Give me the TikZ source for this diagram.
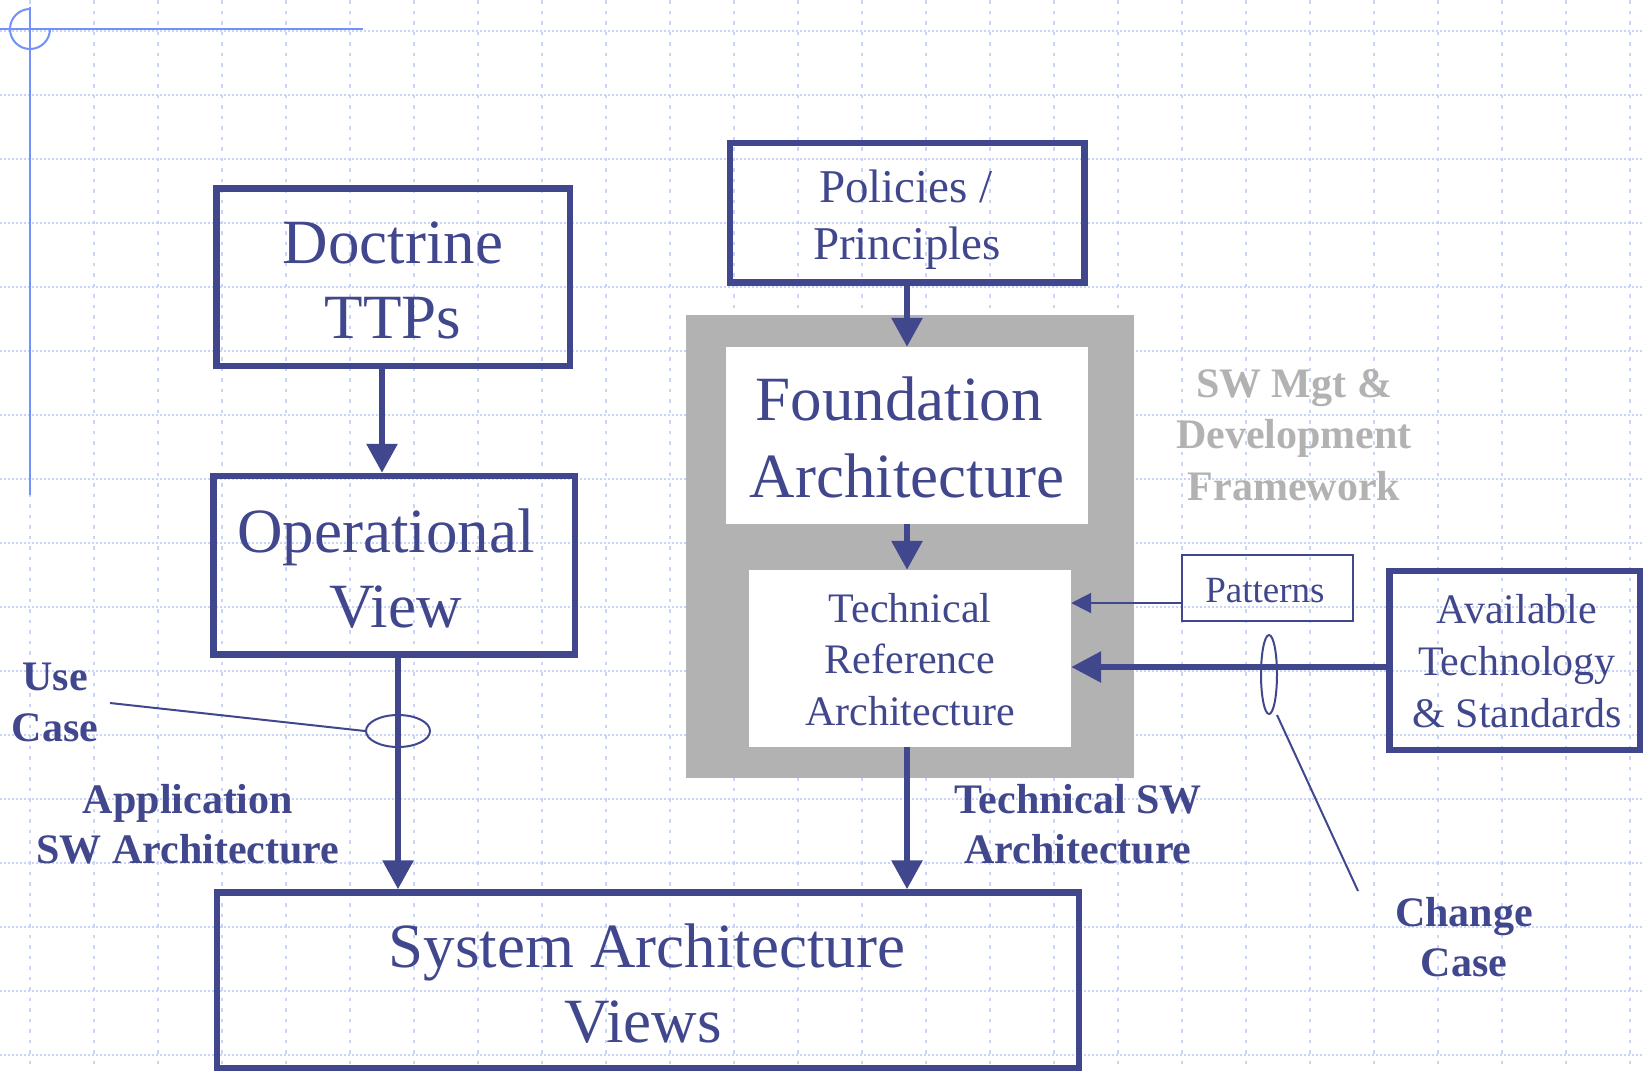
\documentclass[tikz,border=0pt]{standalone}
\usepackage{fontspec}
\setmainfont{Liberation Serif}
\usetikzlibrary{arrows.meta,shapes.geometric}
\definecolor{navy}{RGB}{65,71,141}
\definecolor{gridc}{RGB}{200,212,250}
\definecolor{crossc}{RGB}{115,145,250}
\definecolor{greyfill}{RGB}{178,178,178}
\begin{document}
\begin{tikzpicture}[x=1pt,y=-1pt,
  framebox/.style={draw=navy,line width=6.5pt,inner sep=0pt,rectangle},
  thinbox/.style={draw=navy,line width=2pt,inner sep=0pt,rectangle},
  whitebox/.style={fill=white,draw=none,inner sep=0pt,rectangle},
  greyframe/.style={fill=greyfill,draw=none,inner sep=0pt,rectangle},
  txt/.style={anchor=base,inner sep=0pt,text=navy},
  fbig/.style={font=\fontsize{63}{75}\selectfont},
  fmed/.style={font=\fontsize{42}{50}\selectfont},
  fpol/.style={font=\fontsize{47}{57}\selectfont},
  fpat/.style={font=\fontsize{37}{44}\selectfont},
  fbold/.style={font=\fontsize{42}{50}\selectfont\bfseries},
  arr/.style={draw=navy,line width=6pt,-{Triangle[length=29pt,width=30pt]}},
  arrthick/.style={draw=navy,line width=6pt,-{Triangle[length=30pt,width=30pt]}},
  arrthin/.style={draw=navy,line width=2pt,-{Triangle[length=20pt,width=20pt]}},
  leader/.style={draw=navy,line width=2pt},
  ring/.style={ellipse,draw=navy,line width=2pt,inner sep=0pt},
  gridh/.style={draw=gridc,line width=2pt,dash pattern=on 2pt off 2pt},
  gridv/.style={draw=gridc,line width=2pt,dash pattern=on 3.5pt off 7pt},
  crossline/.style={draw=crossc,line width=2pt}]
\useasboundingbox (0,0) rectangle (1644,1071);
\fill[white] (0,0) rectangle (1644,1071);
% grid
\foreach \k in {0,...,16} \draw[gridh] (0,{31+64*\k}) -- (1644,{31+64*\k});
\foreach \k in {0,...,25} \draw[gridv] ({30+64*\k},0) -- ({30+64*\k},1071);
% crosshair
\draw[crossline] (0,29) -- (363,29);
\draw[crossline] (30,7) -- (30,495);
\draw[crossline] (30,9) arc[start angle=270,end angle=0,radius=20];
% boxes
\node[framebox,minimum width=353.5pt,minimum height=177.5pt] (doctrine) at (393.25,277.25) {};
\node[framebox,minimum width=361.5pt,minimum height=178.5pt] (operational) at (394.25,565.25) {};
\node[framebox,minimum width=862pt,minimum height=175.5pt] (system) at (648,980.25) {};
\node[framebox,minimum width=354.5pt,minimum height=139.5pt] (policies) at (907.25,212.75) {};
\node[greyframe,minimum width=448pt,minimum height=463pt] (sw) at (910,546.5) {};
\node[whitebox,minimum width=362pt,minimum height=177pt] (foundation) at (907,435.5) {};
\node[whitebox,minimum width=322pt,minimum height=177pt] (tra) at (910,658.5) {};
\node[thinbox,minimum width=171pt,minimum height=66pt] (patterns) at (1267.5,588) {};
\node[framebox,minimum width=250.5pt,minimum height=179pt] (avail) at (1514.75,660.5) {};
% texts in boxes
\node[txt,fbig] (t1) at (393,263) {Doctrine};
\node[txt,fbig] (t2) at (393,338) {TTPs};
\node[txt,fbig] (t3) at (386,552) {Operational};
\node[txt,fbig] (t4) at (395.5,627) {View};
\node[txt,fpol] (t5) at (906,202) {Policies /};
\node[txt,fpol] (t6) at (907,259) {Principles};
\node[txt,fbig] (t7) at (899,420) {Foundation};
\node[txt,fbig] (t8) at (907,497) {Architecture};
\node[txt,fmed] (t9) at (910,622) {Technical};
\node[txt,fmed] (t10) at (910,673) {Reference};
\node[txt,fmed] (t11) at (910,725) {Architecture};
\node[txt,fpat] (t12) at (1265,602) {Patterns};
\node[txt,fmed] (t13) at (1517,623) {Available};
\node[txt,fmed] (t14) at (1517,675) {Technology};
\node[txt,fmed] (t15) at (1517,727) {\& Standards};
\node[txt,fbig] (t16) at (647,967) {System Architecture};
\node[txt,fbig] (t17) at (643,1042) {Views};
% free labels
\node[txt,fbold] (l1) at (55,690) {Use};
\node[txt,fbold] (l2) at (55,741) {Case};
\node[txt,fbold] (l3) at (188,813) {Application};
\node[txt,fbold] (l4) at (188,863) {SW Architecture};
\node[txt,fbold] (l5) at (1078,813) {Technical SW};
\node[txt,fbold] (l6) at (1078,863) {Architecture};
\node[txt,fbold,text=greyfill] (l7) at (1294,397) {SW Mgt \&};
\node[txt,fbold,text=greyfill] (l8) at (1294,448) {Development};
\node[txt,fbold,text=greyfill] (l9) at (1294,500) {Framework};
\node[txt,fbold] (l10) at (1464,926) {Change};
\node[txt,fbold] (l11) at (1464,976) {Case};
% connectors
\draw[arr] (382,0 |- doctrine.south) -- (382,0 |- operational.north);
\draw[arr] (398,0 |- operational.south) -- (398,0 |- system.north);
\draw[arr] (907,0 |- policies.south) -- (907,0 |- foundation.north);
\draw[arr] (907,0 |- foundation.south) -- (907,0 |- tra.north);
\draw[arr] (907,0 |- tra.south) -- (907,0 |- system.north);
\draw[arrthin] (patterns.west |- 0,603) -- (tra.east |- 0,603);
\draw[arrthick] (avail.west |- 0,667) -- (tra.east |- 0,667);
% use case / change case rings
\node[ring,minimum width=64pt,minimum height=32pt] (usering) at (398,731) {};
\node[ring,minimum width=16pt,minimum height=79pt] (changering) at (1269,674.5) {};
\coordinate (useend) at (110,703);
\coordinate (changeend) at (1358,891);
\draw[leader] (usering.west) -- (useend);
\draw[leader] ([xshift=8pt]changering.south) -- (changeend);
\end{tikzpicture}
\end{document}
